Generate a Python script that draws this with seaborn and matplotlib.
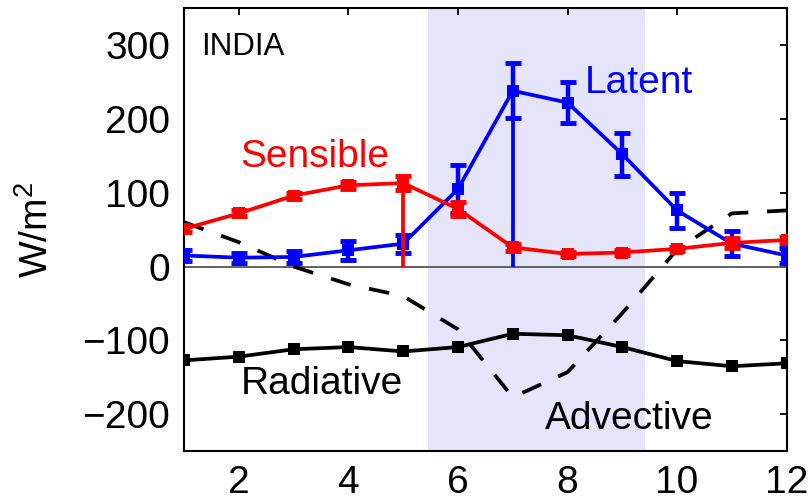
import matplotlib
matplotlib.use("Agg")
import matplotlib.pyplot as plt
import seaborn as sns
import pandas as pd
import numpy as np

months = [1, 2, 3, 4, 5, 6, 7, 8, 9, 10, 11, 12]
sensible = [51, 72, 96, 110, 113, 78, 26, 17, 19, 24, 32, 36]
sensible_err = [4, 4, 4, 5, 9, 10, 5, 3, 3, 3, 7, 4]
latent = [15, 12, 13, 22, 31, 105, 238, 222, 152, 76, 31, 15]
latent_err = [7, 7, 8, 13, 12, 32, 37, 28, 29, 24, 17, 10]
radiative = [-127, -122, -112, -109, -115, -109, -91, -93, -109, -128, -135, -131]
advective = [60, 33, 0, -24, -40, -85, -177, -143, -63, 23, 72, 76]
shade_range = [5.45, 9.42]
y_ticks = [-200, -100, 0, 100, 200, 300]
x_ticks = [2, 4, 6, 8, 10, 12]

df = pd.DataFrame({"month": months, "Sensible": sensible, "Latent": latent,
                   "Radiative": radiative, "Advective": advective})

sns.set_theme(style="white")
plt.rcParams["font.family"] = ["Liberation Sans", "DejaVu Sans"]
plt.rcParams["mathtext.fontset"] = "custom"
plt.rcParams["mathtext.rm"] = "Liberation Sans"

fig = plt.figure(figsize=(8.11, 5.03), dpi=100)
ax = fig.add_axes([0.227, 0.103, 0.743, 0.881])

RED = "#ff0000"
BLUE = "#0000ff"
LW = 2.7
MS = 8

ax.axvspan(shade_range[0], shade_range[1], color="#e4e4fa", zorder=0, lw=0)
ax.axhline(0, color="#555555", lw=1.3, zorder=1)

# Radiative
sns.lineplot(data=df, x="month", y="Radiative", ax=ax, color="black", linewidth=LW,
             marker="s", markersize=MS, markeredgewidth=0, zorder=3)
# Advective
sns.lineplot(data=df, x="month", y="Advective", ax=ax, color="black", linewidth=LW,
             zorder=3)
ax.lines[-1].set_dashes([5.5, 5])

# Latent
ax.vlines(months[6], 0, latent[6], color=BLUE, lw=LW, zorder=4)
sns.lineplot(data=df, x="month", y="Latent", ax=ax, color=BLUE, linewidth=LW,
             marker="s", markersize=MS, markeredgewidth=0, zorder=4)
ax.errorbar(months, latent, yerr=latent_err, fmt="none", ecolor=BLUE,
            elinewidth=3.2, capsize=6, capthick=3.5, zorder=4)

# Sensible
ax.vlines(months[4], 0, sensible[4], color=RED, lw=LW, zorder=5)
sns.lineplot(data=df, x="month", y="Sensible", ax=ax, color=RED, linewidth=LW,
             marker="s", markersize=MS, markeredgewidth=0, zorder=5)
ax.errorbar(months, sensible, yerr=sensible_err, fmt="none", ecolor=RED,
            elinewidth=3.2, capsize=6, capthick=3.5, zorder=5)

ax.set_xlim(1, 12)
ax.set_ylim(-250, 350)
ax.set_xticks(x_ticks)
ax.set_yticks(y_ticks)
ax.set_yticklabels([f"{v}".replace("-", "\u2212") for v in y_ticks])
ax.tick_params(direction="in", length=5, width=1.3, top=True, right=True,
               labelsize=28, colors="black")
ax.tick_params(axis="x", pad=10)
ax.tick_params(axis="y", pad=10)
for s in ax.spines.values():
    s.set_color("black")
    s.set_linewidth(1.5)

ax.set_xlabel("")
ax.set_ylabel("W/m$^2$", fontsize=28, color="black")
ax.yaxis.set_label_coords(-0.212, 0.5)

ax.text(1.31, 297, "INDIA", fontsize=22.5, color="black", ha="left", va="center")
ax.text(3.38, 149, "Sensible", fontsize=28, color=RED, ha="center", va="center")
ax.text(9.30, 248, "Latent", fontsize=28, color=BLUE, ha="center", va="center")
ax.text(3.51, -159, "Radiative", fontsize=28, color="black", ha="center", va="center")
ax.text(9.12, -206, "Advective", fontsize=28, color="black", ha="center", va="center")

fig.savefig("out.png", dpi=100)
